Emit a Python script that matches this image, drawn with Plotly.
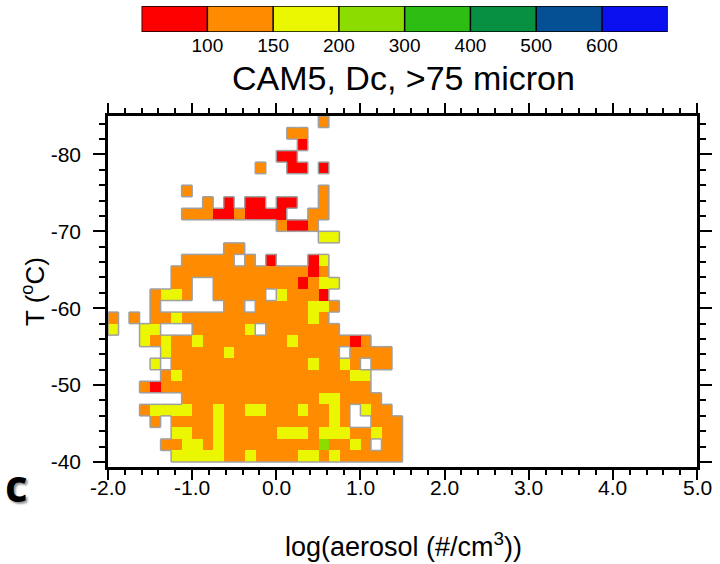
import plotly.graph_objects as go

# ---------------- data ----------------
# Dc class per grid cell: '.' = no data, digit = index into COLORS
# (0: <100, 1: 100-150, 2: 150-200, 3: 200-300, ...)
LEVELS = [100, 150, 200, 300, 400, 500, 600]
COLORS = ["#FF0000", "#FF8C00", "#EAF700", "#8CDC00",
          "#2EBD12", "#079042", "#054F94", "#0A10F0"]

X0, DX = -2.0, 0.125     # log(aerosol) bins
T0, DT = -40.0, -1.5     # temperature bins (row 0 = -40 .. -41.5)

# rows listed from T=-40 (bottom) upward; columns from log(aerosol)=-2.0
ROWS = [
    "......2222211211112212111111",
    ".....11221211111111131121.11",
    "......2211211111222122211211",
    "....1.11112111111111121..111",
    "...12222112112211121121.211.",
    ".......1111111111111221111..",
    "...1011111111111111111111...",
    ".....12111111111111111122....",
    "....2.111111111111121121.11.",
    ".....21111121111111111.1111.",
    "...2121121111111121111101...",
    "2..22...111112.1111111......",
    "1.1.11211111111111121.......",
    "....1......11.11111221......",
    "....1221..11111.21110.......",
    "......11..111111110122......",
    "......111111111111101.......",
    ".......11111.1.0...02.......",
    "...........11...............",
    "....................22......",
    "................1001........",
    ".......1110010000..11.......",
    ".........1.0.00.00..1.......",
    ".......1............1.......",
    "............................",
    "..............1..00.0.......",
    "................00..........",
    "..................0.........",
    ".................11.........",
    "....................1.......",
]

XTICKS = [-2.0, -1.0, 0.0, 1.0, 2.0, 3.0, 4.0, 5.0]
YTICKS = [-80, -70, -60, -50, -40]

# ---------------- build ----------------
NCOL = 28
rows = [(r + "." * NCOL)[:NCOL] for r in ROWS]
nrow = len(rows)

def cls(j, i):
    if 0 <= j < nrow and 0 <= i < NCOL:
        ch = rows[j][i]
        return None if ch == "." else int(ch)
    return None

z = [[cls(j, i) for i in range(NCOL)] for j in range(nrow)]
xc = [X0 + DX * (i + 0.5) for i in range(NCOL)]
yc = [T0 + DT * (j + 0.5) for j in range(nrow)]

n = len(COLORS)
cscale = []
for k, c in enumerate(COLORS):
    cscale += [[k / n, c], [(k + 1) / n, c]]

fig = go.Figure()
fig.add_trace(go.Heatmap(x=xc, y=yc, z=z, colorscale=cscale, zmin=-0.5, zmax=n - 0.5,
                         showscale=False, hoverinfo="skip", xgap=0, ygap=0))

# grey perimeter around missing areas
sx, sy = [], []
for j in range(nrow):
    for i in range(NCOL):
        if cls(j, i) is None:
            continue
        xl, xr = X0 + DX * i, X0 + DX * (i + 1)
        yb, yt = T0 + DT * j, T0 + DT * (j + 1)
        if cls(j, i - 1) is None:
            sx += [xl, xl, None]; sy += [yb, yt, None]
        if cls(j, i + 1) is None:
            sx += [xr, xr, None]; sy += [yb, yt, None]
        if cls(j - 1, i) is None:
            sx += [xl, xr, None]; sy += [yb, yb, None]
        if cls(j + 1, i) is None:
            sx += [xl, xr, None]; sy += [yt, yt, None]
fig.add_trace(go.Scatter(x=sx, y=sy, mode="lines", line=dict(color="#A0A0A0", width=1.5),
                         hoverinfo="skip", showlegend=False))

# label bar (colour key) on its own axes
fig.add_trace(go.Heatmap(x=[k + 0.5 for k in range(n)], y=[0.5], z=[list(range(n))],
                         colorscale=cscale, zmin=-0.5, zmax=n - 0.5, showscale=False,
                         hoverinfo="skip", xaxis="x2", yaxis="y2"))
shapes = [dict(type="rect", xref="x2", yref="y2", x0=0, x1=n, y0=0, y1=1,
               line=dict(color="black", width=1.5))]
for k in range(1, n):
    shapes.append(dict(type="line", xref="x2", yref="y2", x0=k, x1=k, y0=0, y1=1,
                       line=dict(color="black", width=1.5)))

W, H = 720, 564
L, R, T, B = 108, 23, 0, 97
PH = H - T - B
def py(pix):
    return (H - B - pix) / PH
def px(pix):
    return (pix - L) / (W - L - R)

FONT = "Liberation Sans, Arial, Helvetica, sans-serif"

fig.update_layout(
    width=W, height=H, margin=dict(l=L, r=R, t=T, b=B),
    paper_bgcolor="white", plot_bgcolor="white", showlegend=False,
    font=dict(family=FONT, color="black"),
    shapes=shapes,
    xaxis=dict(domain=[0, 1], range=[-2, 5], showline=True, linecolor="black", linewidth=2.5,
               mirror="ticks", ticks="outside", ticklen=10, tickwidth=2, tickcolor="black",
               tickvals=XTICKS, showticklabels=False, showgrid=False, zeroline=False,
               minor=dict(ticks="outside", ticklen=5, tickwidth=1.5, tickcolor="black",
                          dtick=0.2, tick0=-2, showgrid=False)),
    yaxis=dict(domain=[0, py(116)], range=[-39.35, -85], showline=True, linecolor="black",
               linewidth=2.5, mirror="ticks", ticks="outside", ticklen=12, tickwidth=2,
               tickcolor="black", tickvals=YTICKS, ticktext=["%d" % v for v in YTICKS],
               tickfont=dict(size=21), showgrid=False, zeroline=False, ticklabelstandoff=8,
               minor=dict(ticks="outside", ticklen=6, tickwidth=1.5, tickcolor="black",
                          dtick=2, tick0=0, showgrid=False)),
    xaxis2=dict(domain=[px(141.6), px(667.7)], range=[0, n], anchor="y2",
                tickvals=list(range(1, n)), ticktext=[str(v) for v in LEVELS],
                ticks="", showline=False, showgrid=False, zeroline=False,
                tickfont=dict(size=19)),
    yaxis2=dict(domain=[py(32), py(6)], range=[0, 1], anchor="x2", visible=False),
)

# x tick labels, placed close under the axis
for v in XTICKS:
    fig.add_annotation(text="%.1f" % v, xref="x", yref="paper", x=v, y=py(487),
                       xanchor="center", yanchor="middle", showarrow=False,
                       font=dict(size=21))

fig.add_annotation(text="CAM5, Dc, >75 micron", xref="paper", yref="paper",
                   x=px(403), y=py(78), xanchor="center", yanchor="middle",
                   showarrow=False, font=dict(size=34))
fig.add_annotation(text="log(aerosol (#/cm<sup>3</sup>))", xref="paper", yref="paper",
                   x=px(403), y=py(545), xanchor="center", yanchor="middle",
                   showarrow=False, font=dict(size=27))
fig.add_annotation(text="T (<sup>o</sup>C)", xref="paper", yref="paper",
                   x=px(33), y=py(292), xanchor="center", yanchor="middle", textangle=-90,
                   showarrow=False, font=dict(size=26))
fig.add_annotation(text="<b>c</b>", xref="paper", yref="paper",
                   x=px(16), y=py(485), xanchor="center", yanchor="middle",
                   showarrow=False,
                   font=dict(size=44, family="Open Sans", color="black",
                             shadow="2px 2px 2px #9A9A9A"))

fig.write_html("out.html")
